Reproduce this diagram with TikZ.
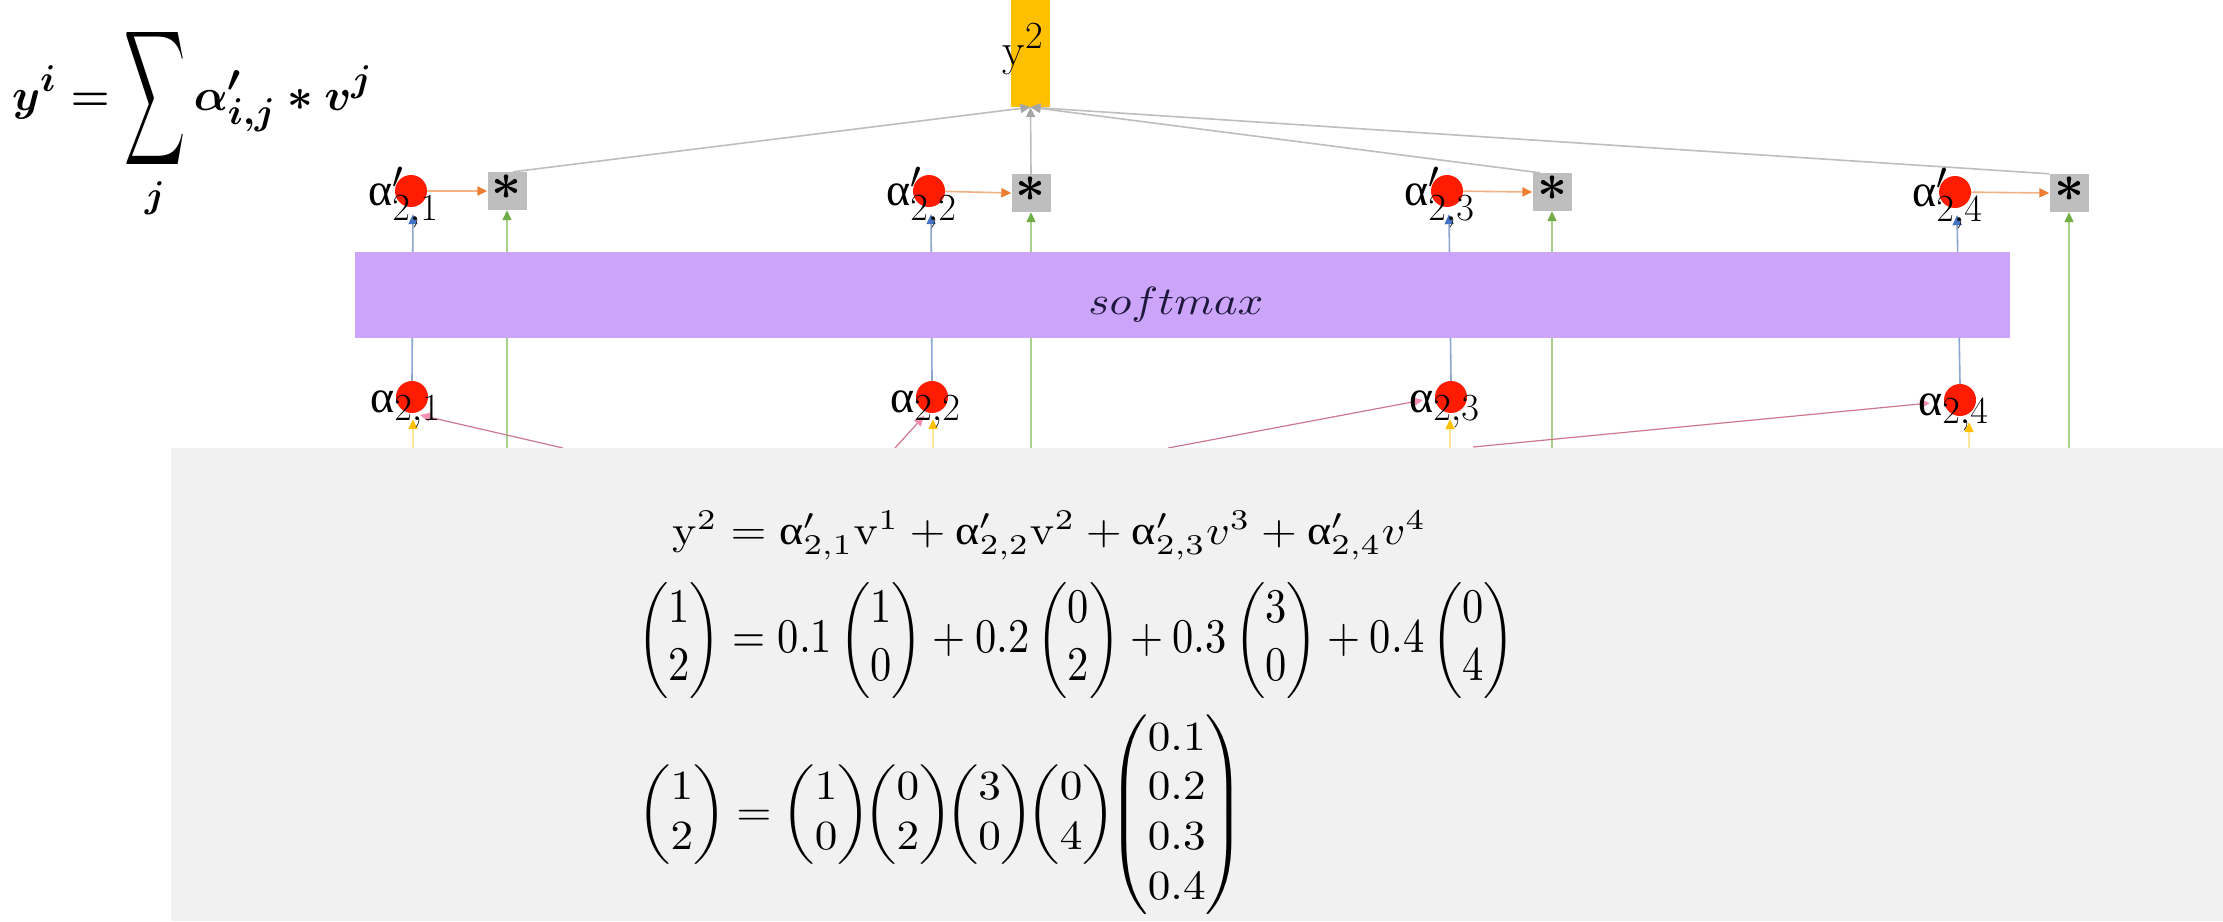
\documentclass[tikz,border=0pt]{standalone}
\usepackage{amsmath}
\usepackage[no-math]{fontspec}
\setmainfont{Liberation Serif}
\usepackage{graphicx}
\usetikzlibrary{arrows.meta,calc}
\definecolor{dotred}{RGB}{255,28,0}
\definecolor{boxgray}{RGB}{190,190,190}
\definecolor{softc}{RGB}{204,164,250}
\definecolor{softtxt}{RGB}{30,24,60}
\definecolor{ybar}{RGB}{255,192,0}
\definecolor{panelc}{RGB}{241,241,241}
\definecolor{bluel}{RGB}{140,166,206}\definecolor{bluet}{RGB}{68,114,196}
\definecolor{greenl}{RGB}{169,209,142}\definecolor{greent}{RGB}{112,173,71}
\definecolor{orangel}{RGB}{244,177,131}\definecolor{oranget}{RGB}{237,125,49}
\definecolor{grayl}{RGB}{190,190,190}\definecolor{grayt}{RGB}{166,166,166}
\definecolor{yell}{RGB}{255,230,153}\definecolor{yelt}{RGB}{255,192,0}
\definecolor{pinkl}{RGB}{205,120,140}\definecolor{pinkt}{RGB}{244,143,177}
\newcommand{\ual}{\textrm{α}}
\newcommand{\biglab}[1]{\scalebox{1.85}{\Huge$#1$}}
\newcommand{\bigstar}{\scalebox{2.1}{\Huge\boldmath$\ast$}}
\newcommand{\pv}[2]{\begin{pmatrix}#1\\#2\end{pmatrix}}
\begin{document}
\begin{tikzpicture}[x=1pt,y=-1pt,
  conn/.style 2 args={line width=1.6pt, draw=#1, -{Triangle[length=10pt,width=9pt,color=#2]}},
  dot/.style={circle, fill=dotred, minimum size=32pt, inner sep=0pt},
  starbox/.style={rectangle, fill=boxgray, minimum width=39pt, minimum height=38pt, inner sep=0pt},
  lab/.style={inner sep=0pt, anchor=base west},
  eq/.style={inner sep=0pt, anchor=north west}]
\useasboundingbox (0,0) rectangle (2223,921);
\fill[white] (0,0) rectangle (2223,921);

% output bar
\node[rectangle, fill=ybar, minimum width=39pt, minimum height=107pt, inner sep=0pt] (yb) at (1030.5,53.5) {};

% alpha' circles and product boxes
\node[dot] (ap1) at (411,191) {};
\node[dot] (ap2) at (929,191) {};
\node[dot] (ap3) at (1447,191) {};
\node[dot] (ap4) at (1955,192) {};
\node[starbox] (s1) at (507,191) {};
\node[starbox] (s2) at (1031,193) {};
\node[starbox] (s3) at (1552,192) {};
\node[starbox] (s4) at (2069,193) {};
\node[inner sep=0pt] (st1) at ($(s1)+(0,-4)$) {\bigstar};
\node[inner sep=0pt] (st2) at ($(s2)+(0,-4)$) {\bigstar};
\node[inner sep=0pt] (st3) at ($(s3)+(0,-4)$) {\bigstar};
\node[inner sep=0pt] (st4) at ($(s4)+(0,-4)$) {\bigstar};

% alpha circles
\node[dot] (a1) at (412,397) {};
\node[dot] (a2) at (932,397) {};
\node[dot] (a3) at (1451,397) {};
\node[dot] (a4) at (1960,400) {};

% lines entering from the panel
\coordinate (g1) at (507,448);
\coordinate (g2) at (1031,448);
\coordinate (g3) at (1552,448);
\coordinate (g4) at (2069,448);
\coordinate (y1) at (413,448);
\coordinate (y2) at (933,448);
\coordinate (y3) at (1450,448);
\coordinate (y4) at (1969,448);
\coordinate (p1) at (563,448);
\coordinate (p2) at (895,448);
\coordinate (p3) at (1168,448);
\coordinate (p4) at (1473,447);

% blue and green lines (behind softmax)
\draw[conn={bluel}{bluet}] (a1.north) -- ($(ap1.south)+(2,7)$);
\draw[conn={bluel}{bluet}] (a2.north) -- ($(ap2.south)+(2,7)$);
\draw[conn={bluel}{bluet}] (a3.north) -- ($(ap3.south)+(2,7)$);
\draw[conn={bluel}{bluet}] (a4.north) -- ($(ap4.south)+(2,7)$);
\draw[conn={greenl}{greent}] (g1) -- (s1.south);
\draw[conn={greenl}{greent}] (g2) -- (s2.south);
\draw[conn={greenl}{greent}] (g3) -- (s3.south);
\draw[conn={greenl}{greent}] (g4) -- (s4.south);

% softmax
\node[rectangle, fill=softc, minimum width=1655pt, minimum height=86pt, inner sep=0pt] (sm) at (1182.5,295) {};
\node[inner sep=0pt, text=softtxt] (smt) at (1176,304.5) {\resizebox*{175pt}{35pt}{$softmax$}};

% orange arrows
\draw[conn={orangel}{oranget}] (ap1) -- (s1);
\draw[conn={orangel}{oranget}] (ap2) -- (s2.west);
\draw[conn={orangel}{oranget}] (ap3) -- (s3.west);
\draw[conn={orangel}{oranget}] (ap4) -- (s4.west);

% gray arrows to output
\draw[conn={grayl}{grayt}] ($(s1.north)+(6,0)$) -- (yb.south);
\draw[conn={grayl}{grayt}] (s2.north) -- (yb.south);
\draw[conn={grayl}{grayt}] ($(s3.north)+(-12,0)$) -- (yb.south);
\draw[conn={grayl}{grayt}] (s4.north west) -- (yb.south);

% yellow and pink arrows into alpha
\draw[conn={yell}{yelt}] (y1) -- ($(a1.south)+(1,6)$);
\draw[conn={yell}{yelt}] (y2) -- ($(a2.south)+(1,6)$);
\draw[conn={yell}{yelt}] (y3) -- ($(a3.south)+(-1,6)$);
\draw[conn={yell}{yelt}] (y4) -- ($(a4.south)+(9,6)$);
\draw[conn={pinkl}{pinkt}, line width=1.2pt] (p1) -- ($(a1)+(8,18)$);
\draw[conn={pinkl}{pinkt}, line width=1.2pt] (p2) -- ($(a2)+(-8,19)$);
\draw[conn={pinkl}{pinkt}, line width=1.2pt] (p3) -- ($(a3)+(-28,3)$);
\draw[conn={pinkl}{pinkt}, line width=1.2pt] (p4) -- ($(a4)+(-30,3)$);

% labels
\node[lab] (lp1) at (368,205) {\biglab{\ual'_{2,1}}};
\node[lab] (lp2) at (886,205) {\biglab{\ual'_{2,2}}};
\node[lab] (lp3) at (1404,205) {\biglab{\ual'_{2,3}}};
\node[lab] (lp4) at (1912,206) {\biglab{\ual'_{2,4}}};
\node[lab] (l1) at (370,412) {\biglab{\ual_{2,1}}};
\node[lab] (l2) at (890,412) {\biglab{\ual_{2,2}}};
\node[lab] (l3) at (1409,412) {\biglab{\ual_{2,3}}};
\node[lab] (l4) at (1918,415) {\biglab{\ual_{2,4}}};
\node[lab] (ylab) at (1002,65) {\scalebox{1.85}{\Huge$\mathrm{y}^2$}};

% formula top-left
\node[lab] (f0) at (12,110) {\scalebox{1.8}{\Huge\boldmath$\displaystyle y^{i} = \mathop{\vcenter{\hbox{\resizebox{34pt}{55pt}{$\displaystyle\sum$}}}}\limits_{j} \alpha'_{i,j} * v^{j}$}};

% overlay panel
\fill[panelc] (171,448) rectangle (2223,921);
\node[eq] (e1) at (672,511) {\resizebox*{754pt}{49pt}{$\mathrm{y}^2 = \ual'_{2,1}\mathrm{v}^1 + \ual'_{2,2}\mathrm{v}^2 + \ual'_{2,3}v^3 + \ual'_{2,4}v^4$}};
\node[eq] (e2) at (637,582) {\resizebox*{878pt}{116pt}{$\pv{1}{2} = 0.1\pv{1}{0} + 0.2\pv{0}{2} + 0.3\pv{3}{0} + 0.4\pv{0}{4}$}};
\node[eq] (e3) at (637,715) {\resizebox*{608pt}{199pt}{$\pv{1}{2}\mkern1mu{=}\mkern1mu\pv{1}{0}\!\!\pv{0}{2}\!\!\pv{3}{0}\!\!\pv{0}{4}\!\!\begin{pmatrix}0.1\\0.2\\0.3\\0.4\end{pmatrix}$}};
\end{tikzpicture}
\end{document}
